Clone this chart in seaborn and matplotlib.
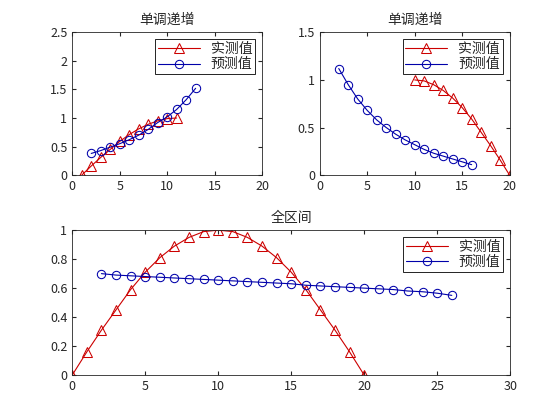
import matplotlib
matplotlib.use("Agg")
import matplotlib.pyplot as plt
import seaborn as sns
import pandas as pd

sns.set_style("ticks")
plt.rcParams['font.family'] = ['Noto Sans CJK SC', 'DejaVu Sans']

# top-left
tl_meas_x = [1, 2, 3, 4, 5, 6, 7, 8, 9, 10, 11]
tl_meas_y = [0, 0.16, 0.31, 0.45, 0.59, 0.71, 0.81, 0.89, 0.95, 0.99, 1.0]
tl_pred_x = [2, 3, 4, 5, 6, 7, 8, 9, 10, 11, 12, 13]
tl_pred_y = [0.38, 0.43, 0.49, 0.55, 0.62, 0.70, 0.80, 0.92, 1.02, 1.15, 1.32, 1.52]
# top-right
tr_meas_x = [10, 11, 12, 13, 14, 15, 16, 17, 18, 19, 20]
tr_meas_y = [1.0, 0.99, 0.95, 0.89, 0.81, 0.71, 0.59, 0.45, 0.31, 0.16, 0]
tr_pred_x = list(range(2, 17))
tr_pred_y = [1.12, 0.95, 0.80, 0.68, 0.58, 0.50, 0.43, 0.37, 0.32, 0.27, 0.23, 0.20, 0.17, 0.14, 0.11]
# bottom
b_meas_x = list(range(0, 21))
b_meas_y = [0, 0.16, 0.31, 0.45, 0.59, 0.71, 0.81, 0.89, 0.95, 0.99, 1.0,
            0.99, 0.95, 0.89, 0.81, 0.71, 0.59, 0.45, 0.31, 0.16, 0]
b_pred_x = list(range(2, 27))
b_pred_y = [0.70, 0.69, 0.685, 0.68, 0.675, 0.67, 0.665, 0.66, 0.655, 0.65, 0.645, 0.64, 0.635,
            0.63, 0.62, 0.615, 0.61, 0.605, 0.60, 0.595, 0.59, 0.58, 0.575, 0.565, 0.55]

labels = ['实测值', '预测值']
title_mono = '单调递增'
title_all = '全区间'

fig = plt.figure(figsize=(5.6, 4.2), dpi=100)
ax1 = fig.add_axes([0.129, 0.583, 0.339, 0.340])
ax2 = fig.add_axes([0.571, 0.583, 0.339, 0.340])
ax3 = fig.add_axes([0.129, 0.107, 0.782, 0.345])

def draw(ax, mx, my, px, py, xlim, ylim, xt, yt, title):
    sns.lineplot(x=mx, y=my, ax=ax, color='#cc0000', marker='^', markersize=7,
                 markerfacecolor='none', markeredgecolor='#cc0000', linewidth=0.8, label=labels[0])
    sns.lineplot(x=px, y=py, ax=ax, color='#0000aa', marker='o', markersize=6,
                 markerfacecolor='none', markeredgecolor='#0000aa', linewidth=0.8, label=labels[1])
    ax.set_xlim(*xlim); ax.set_ylim(*ylim)
    ax.set_xticks(xt); ax.set_yticks(yt)
    ax.set_xticklabels([f'{v:g}' for v in xt]); ax.set_yticklabels([f'{v:g}' for v in yt])
    ax.tick_params(direction='in', top=True, right=True, labelsize=9, length=3)
    for s in ax.spines.values():
        s.set_linewidth(0.6)
    ax.set_title(title, fontsize=10)
    leg = ax.legend(loc='upper right', fontsize=10, fancybox=False, framealpha=1,
                    edgecolor='black', borderpad=0.2, labelspacing=0.1, handlelength=3)
    leg.get_frame().set_linewidth(0.6)

draw(ax1, tl_meas_x, tl_meas_y, tl_pred_x, tl_pred_y, (0, 20), (0, 2.5),
     [0, 5, 10, 15, 20], [0, 0.5, 1, 1.5, 2, 2.5], title_mono)
draw(ax2, tr_meas_x, tr_meas_y, tr_pred_x, tr_pred_y, (0, 20), (0, 1.5),
     [0, 5, 10, 15, 20], [0, 0.5, 1, 1.5], title_mono)
draw(ax3, b_meas_x, b_meas_y, b_pred_x, b_pred_y, (0, 30), (0, 1),
     [0, 5, 10, 15, 20, 25, 30], [0, 0.2, 0.4, 0.6, 0.8, 1], title_all)

fig.savefig('out.png', dpi=100)
